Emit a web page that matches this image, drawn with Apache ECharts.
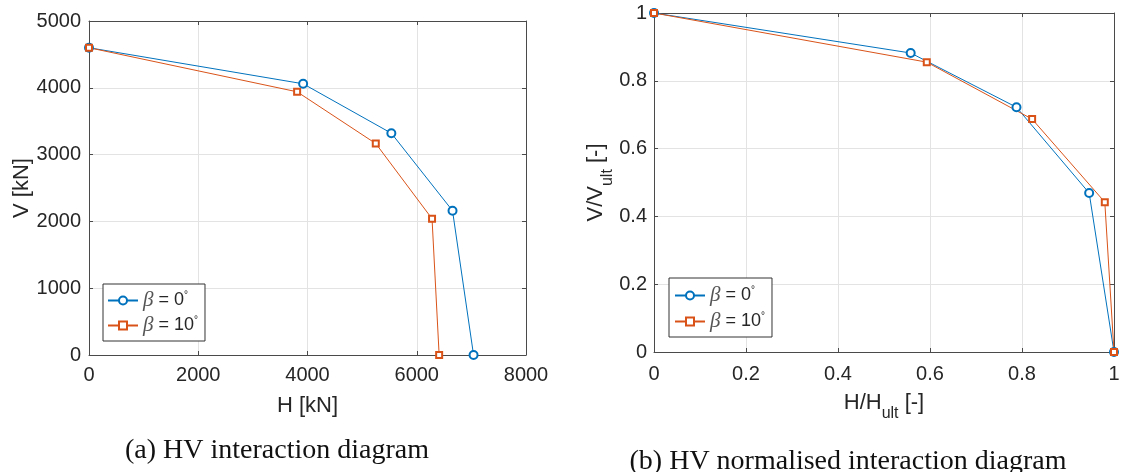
<!DOCTYPE html>
<html>
<head>
<meta charset="utf-8">
<title>HV interaction diagrams</title>
<script src="https://cdn.jsdelivr.net/npm/echarts@6/dist/echarts.min.js"></script>
<style>
  html, body { margin: 0; padding: 0; background: #fff; }
  #chart { width: 1124px; height: 472px; }
</style>
</head>
<body>
<div id="chart"></div>
<script>
// Series names (skew angle beta)
const seriesNames = ['β = 0°', 'β = 10°'];

// (a) absolute capacities, H and V in kN
const H_beta0  = [0, 3920, 5535, 6655, 7040];
const V_beta0  = [4600, 4060, 3320, 2160, 0];
const H_beta10 = [0, 3810, 5250, 6280, 6410];
const V_beta10 = [4600, 3940, 3165, 2040, 0];

// (b) normalised capacities, H/H_ult and V/V_ult
const h_beta0  = [0, 0.558, 0.788, 0.946, 1];
const v_beta0  = [1, 0.882, 0.722, 0.469, 0];
const h_beta10 = [0, 0.593, 0.822, 0.980, 1];
const v_beta10 = [1, 0.855, 0.687, 0.442, 0];

// Axis ranges and tick steps
const absX = { min: 0, max: 8000, interval: 2000 };
const absY = { min: 0, max: 5000, interval: 1000 };
const normX = { min: 0, max: 1, interval: 0.2 };
const normY = { min: 0, max: 1, interval: 0.2 };

const captions = ['(a) HV interaction diagram', '(b) HV normalised interaction diagram'];

const BLUE = '#0072BD';
const ORANGE = '#D95319';
const AXIS = '#4a4a4a';
const TEXT = '#262626';
const GRIDLINE = '#e3e3e3';
const SANS = '"Liberation Sans", Arial, Helvetica, sans-serif';
const SERIF = '"Liberation Serif", "Times New Roman", serif';

const zip = (xs, ys) => xs.map((x, i) => [x, ys[i]]);
// plain tick text, no thousands separator
const plain = (v) => String(Math.round(v * 1000) / 1000);

function mainAxis(cfg, grid, pos, name, nameGap, labelMargin) {
  return {
    type: 'value', gridIndex: grid, position: pos,
    min: cfg.min, max: cfg.max, interval: cfg.interval,
    name: name, nameLocation: 'middle', nameGap: nameGap,
    nameTextStyle: {
      fontFamily: SANS, fontSize: 22, color: TEXT,
      rich: {
        m: { fontFamily: SANS, fontSize: 22, lineHeight: 22, color: TEXT, verticalAlign: 'top' },
        s: { fontFamily: SANS, fontSize: 16, lineHeight: 16, color: TEXT, verticalAlign: 'top', padding: [14, 0, 0, 0] }
      }
    },
    axisLine: { show: true, onZero: false, lineStyle: { color: AXIS, width: 1 } },
    axisTick: { show: true, inside: true, length: 4, lineStyle: { color: AXIS, width: 1 } },
    axisLabel: { show: true, margin: labelMargin, fontFamily: SANS, fontSize: 20, color: TEXT, formatter: plain },
    splitLine: { show: true, lineStyle: { color: GRIDLINE, width: 1 } }
  };
}

function mirrorAxis(cfg, grid, pos) {
  return {
    type: 'value', gridIndex: grid, position: pos,
    min: cfg.min, max: cfg.max, interval: cfg.interval,
    axisLine: { show: true, onZero: false, lineStyle: { color: AXIS, width: 1 } },
    axisTick: { show: true, inside: true, length: 4, lineStyle: { color: AXIS, width: 1 } },
    axisLabel: { show: false },
    splitLine: { show: false }
  };
}

function legendBox(left, top, padding, gap) {
  return {
    data: seriesNames, orient: 'vertical', left: left, top: top,
    padding: padding, itemGap: gap, itemWidth: 30, itemHeight: 10,
    selectedMode: false,
    backgroundColor: '#fff', borderColor: '#333', borderWidth: 1, borderRadius: 0,
    formatter: function (name) {
      const deg = name.replace('β = ', '').replace('°', '');
      return '{g|β}{t| = ' + deg + '}{d|°}';
    },
    textStyle: {
      fontFamily: SANS, fontSize: 18, color: TEXT, lineHeight: 20,
      rich: {
        g: { fontFamily: SERIF, fontStyle: 'italic', fontSize: 21, color: '#555', lineHeight: 20 },
        t: { fontFamily: SANS, fontSize: 18, color: TEXT, lineHeight: 20 },
        d: { fontFamily: SANS, fontSize: 10, color: TEXT, lineHeight: 10, verticalAlign: 'top' }
      }
    }
  };
}

function lineSeries(name, data, xi, yi, symbol, size, color) {
  return {
    name: name, type: 'line', xAxisIndex: xi, yAxisIndex: yi,
    data: data, symbol: symbol, symbolSize: size, showSymbol: true,
    lineStyle: { color: color, width: 1 },
    itemStyle: { color: color, borderColor: color, borderWidth: 1 },
    emphasis: { disabled: true },
    animation: false
  };
}

const chart = echarts.init(document.getElementById('chart'), null, { renderer: 'canvas' });

chart.setOption({
  backgroundColor: '#fff',
  animation: false,
  title: [
    { text: captions[0], left: 277, top: 437, textAlign: 'center', padding: 0,
      textStyle: { fontFamily: SERIF, fontSize: 28, fontWeight: 'normal', color: '#111' } },
    { text: captions[1], left: 848, top: 448, textAlign: 'center', padding: 0,
      textStyle: { fontFamily: SERIF, fontSize: 28, fontWeight: 'normal', color: '#111' } }
  ],
  grid: [
    { left: 89, top: 21, width: 437, height: 334, containLabel: false, outerBoundsMode: 'none' },
    { left: 654, top: 13, width: 460, height: 339, containLabel: false, outerBoundsMode: 'none' }
  ],
  xAxis: [
    mainAxis(absX, 0, 'bottom', 'H [kN]', 40, 10),
    mirrorAxis(absX, 0, 'top'),
    mainAxis(normX, 1, 'bottom', '{m|H/H}{s|ult}{m| [-]}', 40, 12),
    mirrorAxis(normX, 1, 'top')
  ],
  yAxis: [
    mainAxis(absY, 0, 'left', 'V [kN]', 53, 8),
    mirrorAxis(absY, 0, 'right'),
    mainAxis(normY, 1, 'left', '{m|V/V}{s|ult}{m| [-]}', 46, 7),
    mirrorAxis(normY, 1, 'right')
  ],
  legend: [
    legendBox(103, 284, [6, 7, 5, 4], 4),
    legendBox(669, 278, [7, 7, 5, 5], 5)
  ],
  series: [
    lineSeries(seriesNames[0], zip(H_beta0, V_beta0), 0, 0, 'emptyCircle', 8, BLUE),
    lineSeries(seriesNames[1], zip(H_beta10, V_beta10), 0, 0, 'emptyRect', 6, ORANGE),
    lineSeries(seriesNames[0], zip(h_beta0, v_beta0), 2, 2, 'emptyCircle', 8, BLUE),
    lineSeries(seriesNames[1], zip(h_beta10, v_beta10), 2, 2, 'emptyRect', 6, ORANGE)
  ]
});
</script>
</body>
</html>
